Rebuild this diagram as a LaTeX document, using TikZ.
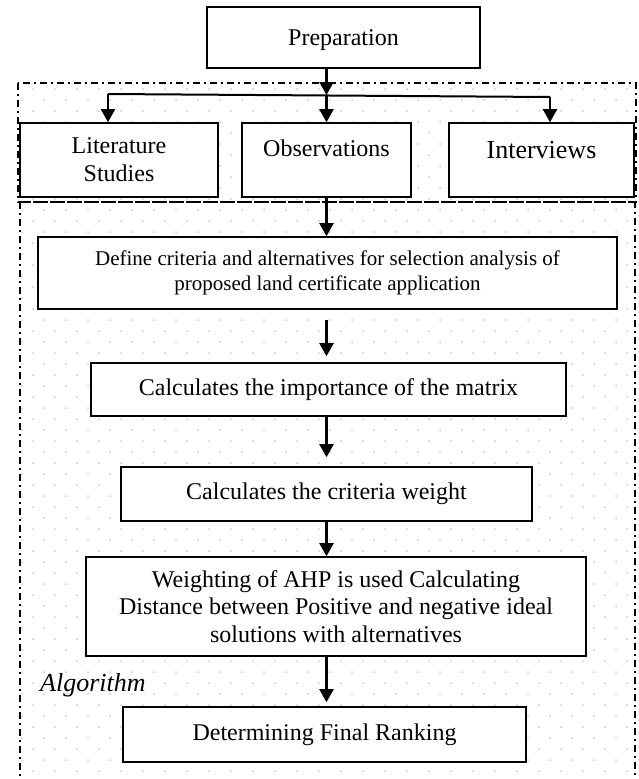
\documentclass[tikz,border=0pt]{standalone}
\usepackage{fontspec}
\setmainfont{Liberation Serif}
\usetikzlibrary{arrows.meta}
\definecolor{dotbeige}{RGB}{212,202,165}

\begin{document}
\begin{tikzpicture}[x=1pt,y=-1pt,
    stepbox/.style={draw,line width=1.6pt,fill=white,align=center,inner sep=0pt,
        font=\fontsize{24}{28}\selectfont},
    flow/.style={-{Triangle[width=14pt,length=13pt]},line width=2.2pt},
    region/.style={line width=1.6pt,dash pattern=on 7pt off 4pt on 2pt off 4pt}]
    \useasboundingbox (0,0) rectangle (638,779);

    % dotted background of the two regions (rows offset by half a step)
    \foreach \y [count=\r] in {89,100,...,779} {
        \pgfmathsetmacro{\off}{mod(\r,2)*11}
        \foreach \x in {22,44,...,622}
            \fill[dotbeige] (\x+\off,\y) circle (1pt);
    }
    \draw[region] (18,83) rectangle (636,202);
    \draw[region] (20,202) rectangle (635,790);

    \node[stepbox,minimum width=273pt,minimum height=61pt,text depth=0pt] (prep) at (343.5,37.5) {Preparation};
    \node[stepbox,minimum width=198pt,minimum height=74pt] (lit) at (119,160) {Literature\\Studies};
    \node[stepbox,minimum width=169pt,minimum height=74pt,font=\fontsize{24}{24}\selectfont] (obs) at (326.5,160) {Observations\\\mbox{}};
    \node[stepbox,minimum width=185pt,minimum height=74pt,font=\fontsize{26}{20}\selectfont] (intv) at (541.5,160) {Interviews\\\mbox{}};

    \node[stepbox,minimum width=579pt,minimum height=72pt,font=\fontsize{21}{25.5}\selectfont] (crit) at (327.5,273)
        {Define criteria and alternatives for selection analysis of\\proposed land certificate application};
    \node[stepbox,minimum width=475pt,minimum height=53pt] (imp) at (328.5,389.5) {Calculates the importance of the matrix};
    \node[stepbox,minimum width=411pt,minimum height=54pt] (wgt) at (326.5,494) {Calculates the criteria weight};
    \node[stepbox,minimum width=500pt,minimum height=99pt,font=\fontsize{24}{27.5}\selectfont] (ahp) at (336,606.5)
        {Weighting of AHP is used Calculating\\Distance between Positive and negative ideal\\solutions with alternatives};
    \node[stepbox,minimum width=403pt,minimum height=55pt] (rank) at (324.5,734.5) {Determining Final Ranking};
    \node[anchor=base west,inner sep=0pt,font=\fontsize{26}{30}\selectfont\itshape] (algo) at (40,691) {Algorithm};

    % branching to the three sources
    \coordinate (split) at (326.5,95);
    \coordinate (litjoin) at (108,94);
    \coordinate (intjoin) at (550,97);
    \draw[flow] (prep.south -| split) -- (split);
    \draw[line width=2pt] (litjoin) -- (intjoin);
    \draw[flow] (litjoin) -- (litjoin |- lit.north);
    \draw[flow] (split) -- (obs.north);
    \draw[flow] (intjoin) -- (intjoin |- intv.north);

    % main flow
    \draw[flow] (obs.south) -- (obs.south |- crit.north);
    \draw[flow,shorten <=10pt,shorten >=6pt] (crit.south -| obs) -- (imp.north -| obs);
    \draw[flow,shorten >=9pt] (imp.south -| obs) -- (wgt.north -| obs);
    \draw[flow] (wgt.south -| obs) -- (ahp.north -| obs);
    \draw[flow,shorten >=4pt] (ahp.south -| obs) -- (rank.north -| obs);
\end{tikzpicture}
\end{document}
